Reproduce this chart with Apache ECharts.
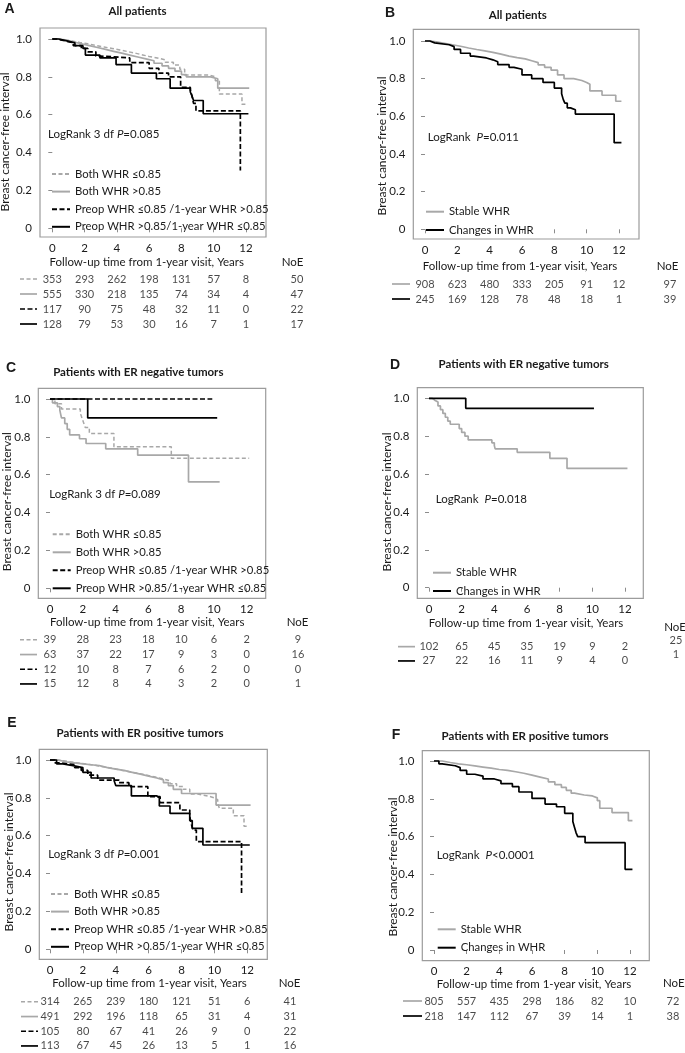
<!DOCTYPE html>
<html><head><meta charset="utf-8">
<script src="https://cdn.jsdelivr.net/npm/echarts@6/dist/echarts.min.js"></script>
<style>html,body{margin:0;padding:0;background:#fff}#c{width:685px;height:1053px}</style>
</head><body><div id="c"></div><script>
// ---------------- DATA ----------------
const TIMES = [0, 2, 4, 6, 8, 10, 12];
const X_TICKS = [0, 2, 4, 6, 8, 10, 12];
const Y_TICKS = [0, 0.2, 0.4, 0.6, 0.8, 1.0];

const NAMES4 = ['Both WHR ≤0.85', 'Both WHR >0.85', 'Preop WHR ≤0.85 /1-year WHR >0.85', 'Preop WHR >0.85/1-year WHR ≤0.85'];
const NAMES2 = ['Stable WHR', 'Changes in WHR'];

// Panel A - All patients (4 groups)
const A_bothLe = [[0,1],[0.3,0.995],[0.7,0.99],[1.2,0.982],[1.7,0.975],[2.2,0.966],[2.7,0.958],[3.2,0.95],[3.7,0.942],[4.2,0.933],[4.7,0.924],[5.2,0.916],[5.6,0.908],[6.0,0.9],[6.5,0.89],[7.0,0.877],[7.5,0.862],[7.9,0.84],[8.2,0.81],[9.7,0.8],[10.1,0.78],[10.35,0.71],[11.75,0.655],[12.05,0.655]];
const A_bothGt = [[0,1],[0.3,0.995],[0.8,0.985],[1.3,0.975],[1.8,0.965],[2.3,0.955],[2.8,0.945],[3.3,0.935],[3.8,0.925],[4.3,0.915],[4.8,0.905],[5.3,0.895],[5.8,0.885],[6.3,0.872],[6.8,0.858],[7.2,0.845],[7.6,0.83],[8.0,0.812],[8.3,0.8],[9.8,0.79],[10.25,0.74],[12.2,0.74]];
const A_preLe = [[0,1],[0.3,0.99],[0.8,0.98],[1.3,0.965],[1.8,0.95],[2.2,0.932],[2.7,0.91],[3.0,0.9],[4.8,0.875],[6.0,0.845],[6.6,0.82],[7.2,0.8],[7.95,0.745],[8.55,0.73],[8.65,0.7],[8.75,0.66],[8.9,0.62],[11.65,0.305]];
const A_preGt = [[0,1],[0.4,0.99],[0.9,0.98],[1.4,0.965],[1.9,0.95],[2.05,0.915],[2.95,0.9],[3.95,0.865],[4.9,0.82],[6.45,0.79],[7.3,0.74],[8.55,0.72],[8.65,0.7],[8.75,0.675],[9.35,0.605],[12.15,0.605]];
const A_atRisk = [[353,293,262,198,131,57,8],[555,330,218,135,74,34,4],[117,90,75,48,32,11,0],[128,79,53,30,16,7,1]];
const A_noe = [50, 47, 22, 17];

// Panel B - All patients (2 groups)
const B_stable = [[0,1],[0.3,0.995],[0.7,0.988],[1.2,0.98],[1.7,0.972],[2.2,0.963],[2.7,0.955],[3.2,0.948],[3.7,0.94],[4.2,0.93],[4.7,0.92],[5.2,0.912],[5.7,0.905],[6.2,0.895],[6.6,0.885],[7.0,0.873],[7.4,0.86],[7.8,0.845],[8.2,0.82],[8.6,0.8],[9.2,0.79],[9.7,0.78],[10.0,0.77],[10.2,0.735],[10.95,0.712],[11.8,0.68],[12.15,0.68]];
const B_changes = [[0,1],[0.3,0.99],[0.6,0.98],[1.5,0.97],[1.8,0.955],[2.2,0.935],[2.8,0.92],[3.0,0.91],[3.8,0.9],[4.2,0.89],[4.5,0.875],[5.2,0.86],[5.5,0.85],[6.0,0.82],[6.6,0.8],[7.3,0.78],[8.0,0.75],[8.45,0.72],[8.55,0.69],[8.65,0.67],[8.8,0.645],[9.0,0.635],[9.3,0.612],[11.7,0.46],[12.15,0.46]];
const B_atRisk = [[908,623,480,333,205,91,12],[245,169,128,78,48,18,1]];
const B_noe = [97, 39];

// Panel C - ER negative (4 groups)
const C_bothLe = [[0,1],[0.3,0.975],[0.7,0.947],[1.85,0.925],[1.95,0.9],[2.05,0.875],[2.15,0.85],[2.4,0.818],[3.9,0.748],[7.4,0.687],[12.15,0.687]];
const C_bothGt = [[0,1],[0.15,0.98],[0.45,0.96],[0.6,0.94],[0.7,0.9],[0.9,0.87],[1.05,0.84],[1.2,0.81],[1.8,0.79],[2.2,0.765],[3.4,0.737],[5.35,0.703],[8.45,0.562],[10.35,0.562]];
const C_preLe = [[0,1],[9.9,1]];
const C_preGt = [[0,1],[2.3,0.9],[10.2,0.9]];
const C_atRisk = [[39,28,23,18,10,6,2],[63,37,22,17,9,3,0],[12,10,8,7,6,2,0],[15,12,8,4,3,2,0]];
const C_noe = [9, 16, 0, 1];

// Panel D - ER negative (2 groups)
const D_stable = [[0,1],[0.2,0.99],[0.35,0.98],[0.55,0.96],[0.7,0.94],[0.85,0.92],[1.0,0.9],[1.15,0.88],[1.3,0.863],[1.85,0.84],[2.0,0.82],[2.2,0.8],[2.4,0.78],[3.85,0.765],[4.0,0.75],[4.05,0.733],[5.4,0.715],[7.4,0.683],[8.45,0.63],[12.15,0.63]];
const D_changes = [[0,1],[2.25,0.947],[10.1,0.947]];
const D_atRisk = [[102,65,45,35,19,9,2],[27,22,16,11,9,4,0]];
const D_noe = [25, 1];

// Panel E - ER positive (4 groups)
const E_bothLe = [[0,1],[0.4,0.995],[0.9,0.988],[1.4,0.982],[1.9,0.976],[2.4,0.97],[2.9,0.962],[3.4,0.955],[3.9,0.945],[4.4,0.937],[4.9,0.928],[5.4,0.92],[5.9,0.91],[6.4,0.9],[6.9,0.89],[7.3,0.875],[7.7,0.86],[8.1,0.845],[8.5,0.82],[9.0,0.81],[9.6,0.8],[10.0,0.79],[10.2,0.77],[10.3,0.745],[11.15,0.706],[11.8,0.65],[12.05,0.65]];
const E_bothGt = [[0,1],[0.5,0.99],[1.0,0.985],[1.5,0.98],[2.0,0.975],[2.5,0.97],[3.0,0.96],[3.5,0.952],[4.0,0.945],[4.5,0.935],[5.0,0.925],[5.5,0.915],[6.0,0.905],[6.5,0.895],[6.9,0.88],[7.2,0.865],[7.5,0.845],[8.0,0.823],[10.1,0.762],[12.2,0.762]];
const E_preLe = [[0,1],[0.3,0.985],[0.6,0.975],[1.5,0.96],[1.9,0.945],[2.3,0.92],[2.9,0.894],[4.2,0.88],[4.8,0.859],[5.95,0.806],[6.7,0.775],[7.9,0.736],[8.5,0.7],[8.6,0.66],[8.7,0.63],[8.9,0.569],[11.65,0.285]];
const E_preGt = [[0,1],[0.4,0.98],[0.7,0.97],[1.4,0.96],[2.0,0.935],[2.5,0.905],[3.9,0.89],[4.0,0.865],[4.95,0.81],[6.5,0.8],[6.65,0.757],[7.3,0.718],[8.5,0.68],[8.65,0.639],[9.3,0.551],[12.15,0.551]];
const E_atRisk = [[314,265,239,180,121,51,6],[491,292,196,118,65,31,4],[105,80,67,41,26,9,0],[113,67,45,26,13,5,1]];
const E_noe = [41, 31, 22, 16];

// Panel F - ER positive (2 groups)
const F_stable = [[0,1],[0.5,0.992],[1.0,0.985],[1.5,0.98],[2.0,0.974],[2.5,0.968],[3.0,0.962],[3.5,0.955],[4.0,0.95],[4.5,0.943],[5.0,0.935],[5.5,0.925],[6.0,0.915],[6.5,0.905],[7.0,0.89],[7.4,0.875],[7.8,0.86],[8.1,0.845],[8.4,0.83],[8.6,0.82],[9.2,0.815],[9.7,0.805],[10.0,0.79],[10.15,0.75],[10.9,0.727],[11.9,0.684],[12.15,0.684]];
const F_changes = [[0,1],[0.3,0.985],[0.5,0.975],[1.3,0.965],[1.6,0.95],[2.0,0.93],[2.5,0.92],[3.0,0.905],[3.7,0.895],[4.1,0.88],[4.8,0.864],[5.2,0.836],[6.0,0.802],[6.8,0.772],[7.5,0.758],[8.0,0.723],[8.5,0.68],[8.6,0.65],[8.7,0.62],[8.8,0.6],[9.25,0.568],[11.7,0.427],[12.15,0.427]];
const F_atRisk = [[805,557,435,298,186,82,10],[218,147,112,67,39,14,1]];
const F_noe = [72, 38];

// ---------------- STYLE / LAYOUT ----------------
const FONT = 'Lato';
const FS = 11.5;     // general text size
const FS_LEG = 11.3; // legend text
const FS_TBL = 11;   // at-risk table numbers
const TXT = '#1a1a1a';
const GREY = '#a8a8a8';
const ST = {
  gd: {color: GREY, width: 1.5, type: [4, 2.5]},
  gs: {color: GREY, width: 1.7, type: 'solid'},
  bd: {color: '#000', width: 1.7, type: [5, 2.5]},
  bs: {color: '#000', width: 1.7, type: 'solid'}
};
const STY4 = [ST.gd, ST.gs, ST.bd, ST.bs];
const STY2 = [ST.gs, ST.bs];

const panels = [
  {letter:'A', L:[9.5,8.7], title:'All patients', T:[137.5,11.5], box:[40,28,266,237], x0:52.3, x12:246, y1:39, y0:228.3,
   ylab:[5.5,142], xlab:[146.7,262], noeH:[292.5,262], lr:{pre:'LogRank 3 df ', post:'=0.085', left:48, y:134},
   leg:{left:51, top:167, pitch:17.6}, tbl:{top:271.5, pitch:15, key:[20,37], noeX:297, noeDy:0},
   names:NAMES4, sty:STY4, curves:[A_bothLe, A_bothGt, A_preLe, A_preGt], atRisk:A_atRisk, noe:A_noe},
  {letter:'B', L:[390,13], title:'All patients', T:[517.8,14.8], box:[413.3,29.3,639,239], x0:425, x12:619, y1:41, y0:229.3,
   ylab:[382.3,146], xlab:[520,266.7], noeH:[667.5,266], lr:{pre:'LogRank  ', post:'=0.011', left:427.7, y:137},
   leg:{left:425, top:204.7, pitch:18.3}, tbl:{top:276.5, pitch:15, key:[392,410], noeX:670, noeDy:0},
   names:NAMES2, sty:STY2, curves:[B_stable, B_changes], atRisk:B_atRisk, noe:B_noe},
  {letter:'C', L:[11,368], title:'Patients with ER negative tumors', T:[138.3,372], box:[38.3,388.3,265.7,598.3], x0:50, x12:246.7, y1:399, y0:588.3,
   ylab:[7.5,501.7], xlab:[147.2,622.7], noeH:[297.5,622.7], lr:{pre:'LogRank 3 df ', post:'=0.089', left:49.3, y:494.5},
   leg:{left:51.7, top:527.3, pitch:18}, tbl:{top:632.5, pitch:14.7, key:[20,37], noeX:298, noeDy:0},
   names:NAMES4, sty:STY4, curves:[C_bothLe, C_bothGt, C_preLe, C_preGt], atRisk:C_atRisk, noe:C_noe},
  {letter:'D', L:[395,365], title:'Patients with ER negative tumors', T:[523.7,364.7], box:[417.3,387.7,643.3,598.3], x0:429, x12:625, y1:398.3, y0:587.7,
   ylab:[387.5,502], xlab:[526,623.7], noeH:[675,627], lr:{pre:'LogRank  ', post:'=0.018', left:435.7, y:499},
   leg:{left:432, top:565.7, pitch:18.3}, tbl:{top:639.5, pitch:14.3, key:[398,415], noeX:676, noeDy:-6.5},
   names:NAMES2, sty:STY2, curves:[D_stable, D_changes], atRisk:D_atRisk, noe:D_noe},
  {letter:'E', L:[12,723], title:'Patients with ER positive tumors', T:[140,733.7], box:[39.3,749.3,267.3,959.3], x0:50, x12:247.3, y1:760, y0:949.3,
   ylab:[8.7,862], xlab:[149.5,983.7], noeH:[289.5,983.5], lr:{pre:'LogRank 3 df ', post:'=0.001', left:48.3, y:854.5},
   leg:{left:50, top:887, pitch:17.6}, tbl:{top:994.5, pitch:14.7, key:[21,38], noeX:290, noeDy:0},
   names:NAMES4, sty:STY4, curves:[E_bothLe, E_bothGt, E_preLe, E_preGt], atRisk:E_atRisk, noe:E_noe},
  {letter:'F', L:[396,735], title:'Patients with ER positive tumors', T:[525,736.7], box:[422.3,750.7,649.3,960.7], x0:434, x12:630, y1:761, y0:950,
   ylab:[393,867], xlab:[534,984.3], noeH:[673.8,983.7], lr:{pre:'LogRank  ', post:'<0.0001', left:436.7, y:855.3},
   leg:{left:436.7, top:922.3, pitch:18.4}, tbl:{top:993.5, pitch:15, key:[403,422], noeX:673, noeDy:0},
   names:NAMES2, sty:STY2, curves:[F_stable, F_changes], atRisk:F_atRisk, noe:F_noe}
];

// ---------------- BUILD ----------------
const option = {animation:false, backgroundColor:'#fff', grid:[], xAxis:[], yAxis:[], series:[], legend:[], title:[], graphic:[]};
const txt = (x, y, text, font, extra) => Object.assign({type:'text', x, y, silent:true,
  style:{text, font, fill:TXT, textAlign:'center', textVerticalAlign:'middle'}}, extra || {});

panels.forEach(p => {
  const [bl, bt, br, bb] = p.box;
  const pxYr = (p.x12 - p.x0) / 12;
  const xMin = -(p.x0 - bl) / pxYr, xMax = (br - p.x0) / pxYr;
  const pxU = p.y0 - p.y1;
  const yMin = -(bb - p.y0) / pxU, yMax = 1 + (p.y1 - bt) / pxU;

  // plot grid
  const gi = option.grid.length;
  option.grid.push({left:bl, top:bt, width:br-bl, height:bb-bt, show:true, borderColor:'#9c9c9c', borderWidth:1.2, backgroundColor:'transparent'});
  option.xAxis.push({type:'value', gridIndex:gi, min:xMin, max:xMax,
    axisLine:{show:false}, splitLine:{show:false},
    axisTick:{show:true, length:4, lineStyle:{color:'#8c8c8c'}, customValues:X_TICKS},
    axisLabel:{show:true, margin:5, fontSize:FS, fontFamily:FONT, color:TXT, customValues:X_TICKS, formatter:v => String(v)}});
  option.yAxis.push({type:'value', gridIndex:gi, min:yMin, max:yMax,
    axisLine:{show:false}, splitLine:{show:false},
    axisTick:{show:true, length:4, lineStyle:{color:'#8c8c8c'}, customValues:Y_TICKS},
    axisLabel:{show:true, margin:8, fontSize:FS, fontFamily:FONT, color:TXT, customValues:Y_TICKS, formatter:v => v === 0 ? '0' : v.toFixed(1)}});
  p.curves.forEach((c, k) => {
    option.series.push({type:'line', name:p.names[k], xAxisIndex:gi, yAxisIndex:gi, step:'end', data:c,
      symbol:'none', showSymbol:false, lineStyle:Object.assign({}, p.sty[k]), itemStyle:{color:p.sty[k].color}, z:2+k});
  });
  option.legend.push({data:p.names, orient:'vertical', left:p.leg.left, top:p.leg.top, padding:0,
    itemWidth:18, itemHeight:14, itemGap:p.leg.pitch-14, selectedMode:false,
    itemStyle:{opacity:0, color:'transparent', borderColor:'transparent', borderWidth:0},
    textStyle:{fontSize:FS_LEG, fontFamily:FONT, color:TXT, lineHeight:14}});

  // table grid (shares the x scale of the plot)
  const nR = p.atRisk.length;
  const ti = option.grid.length;
  option.grid.push({left:bl, top:p.tbl.top, width:br-bl, height:nR*p.tbl.pitch, show:false});
  option.xAxis.push({type:'value', gridIndex:ti, min:xMin, max:xMax, show:false});
  option.yAxis.push({type:'category', gridIndex:ti, data:p.atRisk.map((_, i) => i), inverse:true, show:false});
  const cells = [];
  p.atRisk.forEach((row, ri) => row.forEach((v, ci) => cells.push([TIMES[ci], ri, v])));
  const lab = {show:true, position:'inside', formatter:q => String(q.value[2]), color:TXT, fontSize:FS_TBL, fontFamily:FONT};
  option.series.push({type:'scatter', xAxisIndex:ti, yAxisIndex:ti, symbolSize:0, data:cells, label:lab, silent:true, clip:false});
  const noeX = (p.tbl.noeX - p.x0) / pxYr;
  option.series.push({type:'scatter', xAxisIndex:ti, yAxisIndex:ti, symbolSize:0, clip:false, silent:true,
    data:p.noe.map((v, ri) => [noeX, ri, v]), label:Object.assign({}, lab, {offset:[0, p.tbl.noeDy]})});

  // table keys
  p.atRisk.forEach((_, ri) => {
    const y = p.tbl.top + (ri + 0.5) * p.tbl.pitch;
    const s = p.sty[ri];
    option.graphic.push({type:'line', silent:true, shape:{x1:p.tbl.key[0], y1:y, x2:p.tbl.key[1], y2:y},
      style:{stroke:s.color, lineWidth:s.width, lineDash:Array.isArray(s.type) ? s.type : null}});
  });

  // texts
  option.graphic.push(txt(p.L[0], p.L[1], p.letter, 'bold 14px "Liberation Sans"'));
  option.graphic.push(txt(p.T[0], p.T[1], p.title, 'bold 11.5px ' + FONT));
  option.graphic.push(txt(p.xlab[0], p.xlab[1], 'Follow-up time from 1-year visit, Years', FS + 'px ' + FONT));
  option.graphic.push(txt(p.noeH[0], p.noeH[1], 'NoE', FS + 'px ' + FONT));
  option.graphic.push(txt(p.ylab[0], p.ylab[1], 'Breast cancer-free interval', '12px ' + FONT, {rotation:Math.PI/2}));
  option.title.push({text:'{n|' + p.lr.pre + '}{i|P}{n|' + p.lr.post + '}', left:p.lr.left, top:p.lr.y - 7, padding:0,
    textStyle:{fontWeight:'normal', rich:{
      n:{fontSize:FS, fontFamily:FONT, color:TXT, fontWeight:'normal', lineHeight:14},
      i:{fontSize:FS, fontFamily:FONT, color:TXT, fontWeight:'normal', fontStyle:'italic', lineHeight:14}}}});
});

const chart = echarts.init(document.getElementById('c'), null, {renderer:'canvas'});
chart.setOption(option);
</script></body></html>
